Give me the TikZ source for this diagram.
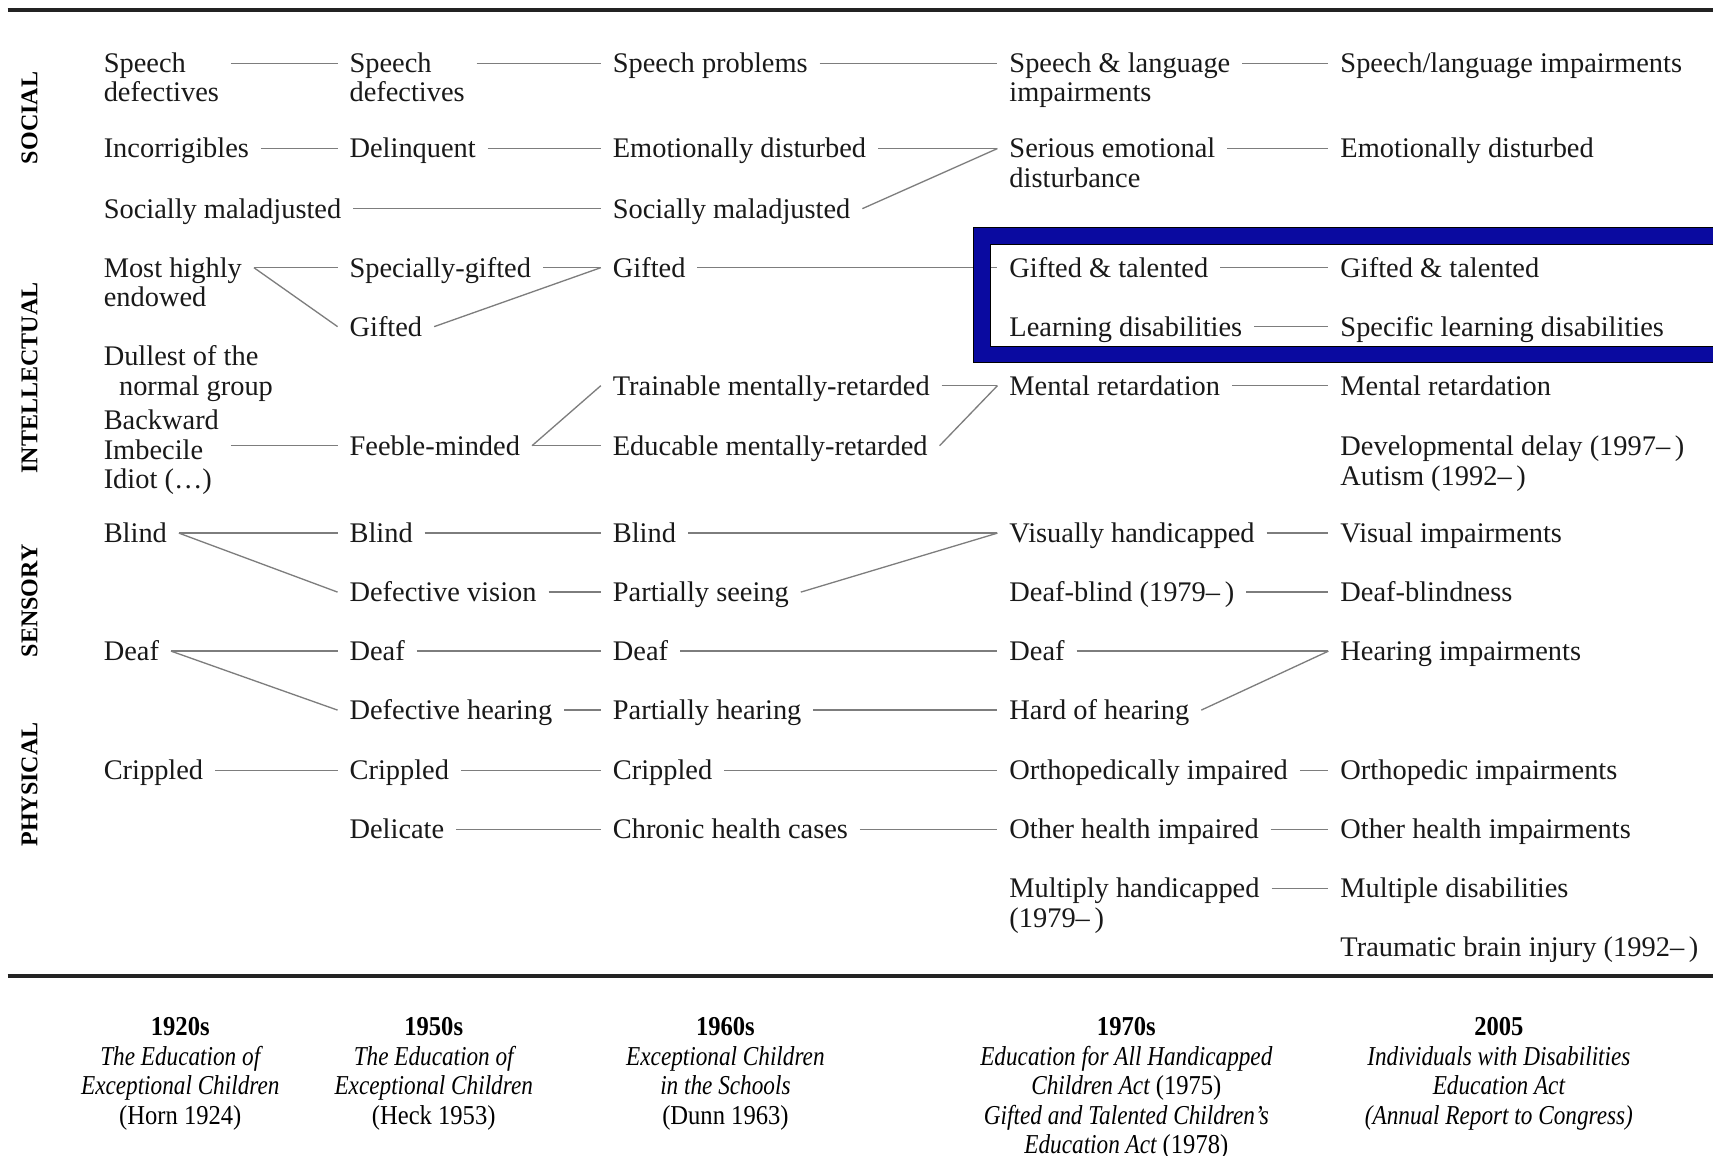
\documentclass[tikz,border=0pt]{standalone}
\usepackage{fontspec}
\setmainfont{Liberation Serif}
\newfontfamily\capitfam[FakeStretch=0.85]{Liberation Serif}
\newfontfamily\caprmfam[FakeStretch=0.9]{Liberation Serif}
\newcommand\myit[1]{{\capitfam\itshape #1}}
\definecolor{boxblue}{RGB}{10,10,160}
\definecolor{linegray}{RGB}{125,125,125}
\definecolor{rulegray}{RGB}{35,35,35}
\tikzset{
  lbl/.style={anchor=mid west, inner sep=0pt, outer xsep=5.5pt, outer ysep=0pt,
              font=\fontsize{13}{13}\selectfont, text=black!90,
              execute at begin node={\lower2pt\hbox\bgroup},
              execute at end node={\egroup}},
  conn/.style={draw=linegray, line width=0.6pt},
  side/.style={rotate=90, inner sep=0pt, font=\fontsize{11}{11}\selectfont\bfseries},
  capt/.style={anchor=north, align=center, inner sep=0pt,
               font=\caprmfam\fontsize{12.5}{13.5}\selectfont},
  toprule/.style={draw=rulegray, line width=1.85pt}
}
\begin{document}
\begin{tikzpicture}[x=0.5pt,y=-0.5pt]
\useasboundingbox (0,0) rectangle (1568,1058);
\clip (0,0) rectangle (1568,1058);
\fill[white] (0,0) rectangle (1568,1058);

% rules
\coordinate (tl) at (7,9.4);
\coordinate (tr) at (1570,9.4);
\coordinate (bl) at (7,893);
\coordinate (br) at (1570,893);
\draw[toprule] (tl) -- (tr);
\draw[toprule] (bl) -- (br);

% side labels
\node[side] (sSoc) at (27,108) {SOCIAL};
\node[side] (sInt) at (27,346) {INTELLECTUAL};
\node[side] (sSen) at (27,550) {SENSORY};
\node[side] (sPhy) at (27,718) {PHYSICAL};

% column 1
\node[lbl] (a1)  at (84,58)  {Speech};
\node[lbl] (a1b) at (84,84)  {defectives};
\node[lbl] (a2)  at (84,136) {Incorrigibles};
\node[lbl] (a3)  at (84,191) {Socially maladjusted};
\node[lbl] (a4)  at (84,245) {Most highly};
\node[lbl] (a4b) at (84,272) {endowed};
\node[lbl] (a6)  at (84,326) {Dullest of the};
\node[lbl] (a6b) at (98,353) {normal group};
\node[lbl] (a7)  at (84,385) {Backward};
\node[lbl] (a7b) at (84,412) {Imbecile};
\node[lbl] (a7c) at (84,439) {Idiot (…)};
\node[lbl] (a9)  at (84,488) {Blind};
\node[lbl] (a11) at (84,596) {Deaf};
\node[lbl] (a13) at (84,705) {Crippled};

% column 2
\node[lbl] (b1)  at (309,58)  {Speech};
\node[lbl] (b1b) at (309,84)  {defectives};
\node[lbl] (b2)  at (309,136) {Delinquent};
\node[lbl] (b4)  at (309,245) {Specially-gifted};
\node[lbl] (b5)  at (309,299) {Gifted};
\node[lbl] (b8)  at (309,408) {Feeble-minded};
\node[lbl] (b9)  at (309,488) {Blind};
\node[lbl] (b10) at (309,542) {Defective vision};
\node[lbl] (b11) at (309,596) {Deaf};
\node[lbl] (b12) at (309,650) {Defective hearing};
\node[lbl] (b13) at (309,705) {Crippled};
\node[lbl] (b14) at (309,759) {Delicate};

% column 3
\node[lbl] (d1)  at (550,58)  {Speech problems};
\node[lbl] (d2)  at (550,136) {Emotionally disturbed};
\node[lbl] (d3)  at (550,191) {Socially maladjusted};
\node[lbl] (d4)  at (550,245) {Gifted};
\node[lbl] (d7)  at (550,353) {Trainable mentally-retarded};
\node[lbl] (d8)  at (550,408) {Educable mentally-retarded};
\node[lbl] (d9)  at (550,488) {Blind};
\node[lbl] (d10) at (550,542) {Partially seeing};
\node[lbl] (d11) at (550,596) {Deaf};
\node[lbl] (d12) at (550,650) {Partially hearing};
\node[lbl] (d13) at (550,705) {Crippled};
\node[lbl] (d14) at (550,759) {Chronic health cases};

% column 4
\node[lbl] (e1)  at (913,58)  {Speech \& language};
\node[lbl] (e1b) at (913,84)  {impairments};
\node[lbl] (e2)  at (913,136) {Serious emotional};
\node[lbl] (e2b) at (913,163) {disturbance};
\node[lbl] (e7)  at (913,353) {Mental retardation};
\node[lbl] (e9)  at (913,488) {Visually handicapped};
\node[lbl] (e10) at (913,542) {Deaf-blind (1979–\,)};
\node[lbl] (e11) at (913,596) {Deaf};
\node[lbl] (e12) at (913,650) {Hard of hearing};
\node[lbl] (e13) at (913,705) {Orthopedically impaired};
\node[lbl] (e14) at (913,759) {Other health impaired};
\node[lbl] (e15) at (913,813) {Multiply handicapped};
\node[lbl] (e15b) at (913,840) {(1979–\,)};

% column 5
\node[lbl] (f1)  at (1216,58)  {Speech/language impairments};
\node[lbl] (f2)  at (1216,136) {Emotionally disturbed};
\node[lbl] (f7)  at (1216,353) {Mental retardation};
\node[lbl] (f8)  at (1216,408) {Developmental delay (1997–\,)};
\node[lbl] (f8b) at (1216,436) {Autism (1992–\,)};
\node[lbl] (f9)  at (1216,488) {Visual impairments};
\node[lbl] (f10) at (1216,542) {Deaf-blindness};
\node[lbl] (f11) at (1216,596) {Hearing impairments};
\node[lbl] (f13) at (1216,705) {Orthopedic impairments};
\node[lbl] (f14) at (1216,759) {Other health impairments};
\node[lbl] (f15) at (1216,813) {Multiple disabilities};
\node[lbl] (f16) at (1216,867) {Traumatic brain injury (1992–\,)};

% connector that runs under the highlight box
\draw[conn] (d4.mid east) -- (913,245) coordinate (gtIn);

% highlight box
\fill[boxblue, even odd rule] (891,208) rectangle (1600,332) (907,224) rectangle (1600,317);
\draw[black, line width=0.5pt] (1600,208) -| (891,332) -- (1600,332);
\draw[black, line width=0.5pt] (1600,224) -| (907,317) -- (1600,317);

% nodes inside the box
\node[lbl] (e4)  at (913,245) {Gifted \& talented};
\node[lbl] (e5)  at (913,299) {Learning disabilities};
\node[lbl] (f4)  at (1216,245) {Gifted \& talented};
\node[lbl] (f5)  at (1216,299) {Specific learning disabilities};
\draw[conn] (907,245) -- (e4.mid west);

% connectors
\draw[conn] (a1b.east |- a1.mid east) -- (b1.mid west);
\draw[conn] (b1b.east |- b1.mid east) -- (d1.mid west);
\draw[conn] (d1.mid east) -- (e1.mid west);
\draw[conn] (e1.mid east) -- (f1.mid west);

\draw[conn] (a2.mid east) -- (b2.mid west);
\draw[conn] (b2.mid east) -- (d2.mid west);
\draw[conn] (d2.mid east) -- (e2.mid west);
\draw[conn] (e2.mid east) -- (f2.mid west);
\draw[conn] (a3.mid east) -- (d3.mid west);
\draw[conn] (d3.mid east) -- (e2.mid west);

\draw[conn] (a4.mid east) -- (b4.mid west);
\draw[conn] (a4.mid east) -- (b5.mid west);
\draw[conn] (b4.mid east) -- (d4.mid west);
\draw[conn] (b5.mid east) -- (d4.mid west);
\draw[conn] (e4.mid east) -- (f4.mid west);
\draw[conn] (e5.mid east) -- (f5.mid west);

\draw[conn] (a7.east |- b8.mid west) -- (b8.mid west);
\draw[conn] (b8.mid east) -- (d7.mid west);
\draw[conn] (b8.mid east) -- (d8.mid west);
\draw[conn] (d7.mid east) -- (e7.mid west);
\draw[conn] (d8.mid east) -- (e7.mid west);
\draw[conn] (e7.mid east) -- (f7.mid west);

\draw[conn] (a9.mid east) -- (b9.mid west);
\draw[conn] (a9.mid east) -- (b10.mid west);
\draw[conn] (b9.mid east) -- (d9.mid west);
\draw[conn] (b10.mid east) -- (d10.mid west);
\draw[conn] (d9.mid east) -- (e9.mid west);
\draw[conn] (d10.mid east) -- (e9.mid west);
\draw[conn] (e9.mid east) -- (f9.mid west);
\draw[conn] (e10.mid east) -- (f10.mid west);

\draw[conn] (a11.mid east) -- (b11.mid west);
\draw[conn] (a11.mid east) -- (b12.mid west);
\draw[conn] (b11.mid east) -- (d11.mid west);
\draw[conn] (b12.mid east) -- (d12.mid west);
\draw[conn] (d11.mid east) -- (e11.mid west);
\draw[conn] (d12.mid east) -- (e12.mid west);
\draw[conn] (e11.mid east) -- (f11.mid west);
\draw[conn] (e12.mid east) -- (f11.mid west);

\draw[conn] (a13.mid east) -- (b13.mid west);
\draw[conn] (b13.mid east) -- (d13.mid west);
\draw[conn] (d13.mid east) -- (e13.mid west);
\draw[conn] (e13.mid east) -- (f13.mid west);
\draw[conn] (b14.mid east) -- (d14.mid west);
\draw[conn] (d14.mid east) -- (e14.mid west);
\draw[conn] (e14.mid east) -- (f14.mid west);
\draw[conn] (e15.mid east) -- (f15.mid west);

% captions
\node[capt] (c1920) at (165,931) {{\bfseries 1920s}\\\myit{The Education of}\\\myit{Exceptional Children}\\(Horn 1924)};
\node[capt] (c1950) at (397,931) {{\bfseries 1950s}\\\myit{The Education of}\\\myit{Exceptional Children}\\(Heck 1953)};
\node[capt] (c1960) at (664,931) {{\bfseries 1960s}\\\myit{Exceptional Children}\\\myit{in the Schools}\\(Dunn 1963)};
\node[capt] (c1970) at (1031,931) {{\bfseries 1970s}\\\myit{Education for All Handicapped}\\\myit{Children Act} (1975)\\\myit{Gifted and Talented Children’s}\\\myit{Education Act} (1978)};
\node[capt] (c2005) at (1372,931) {{\bfseries 2005}\\\myit{Individuals with Disabilities}\\\myit{Education Act}\\\myit{(Annual Report to Congress)}};
\end{tikzpicture}
\end{document}
